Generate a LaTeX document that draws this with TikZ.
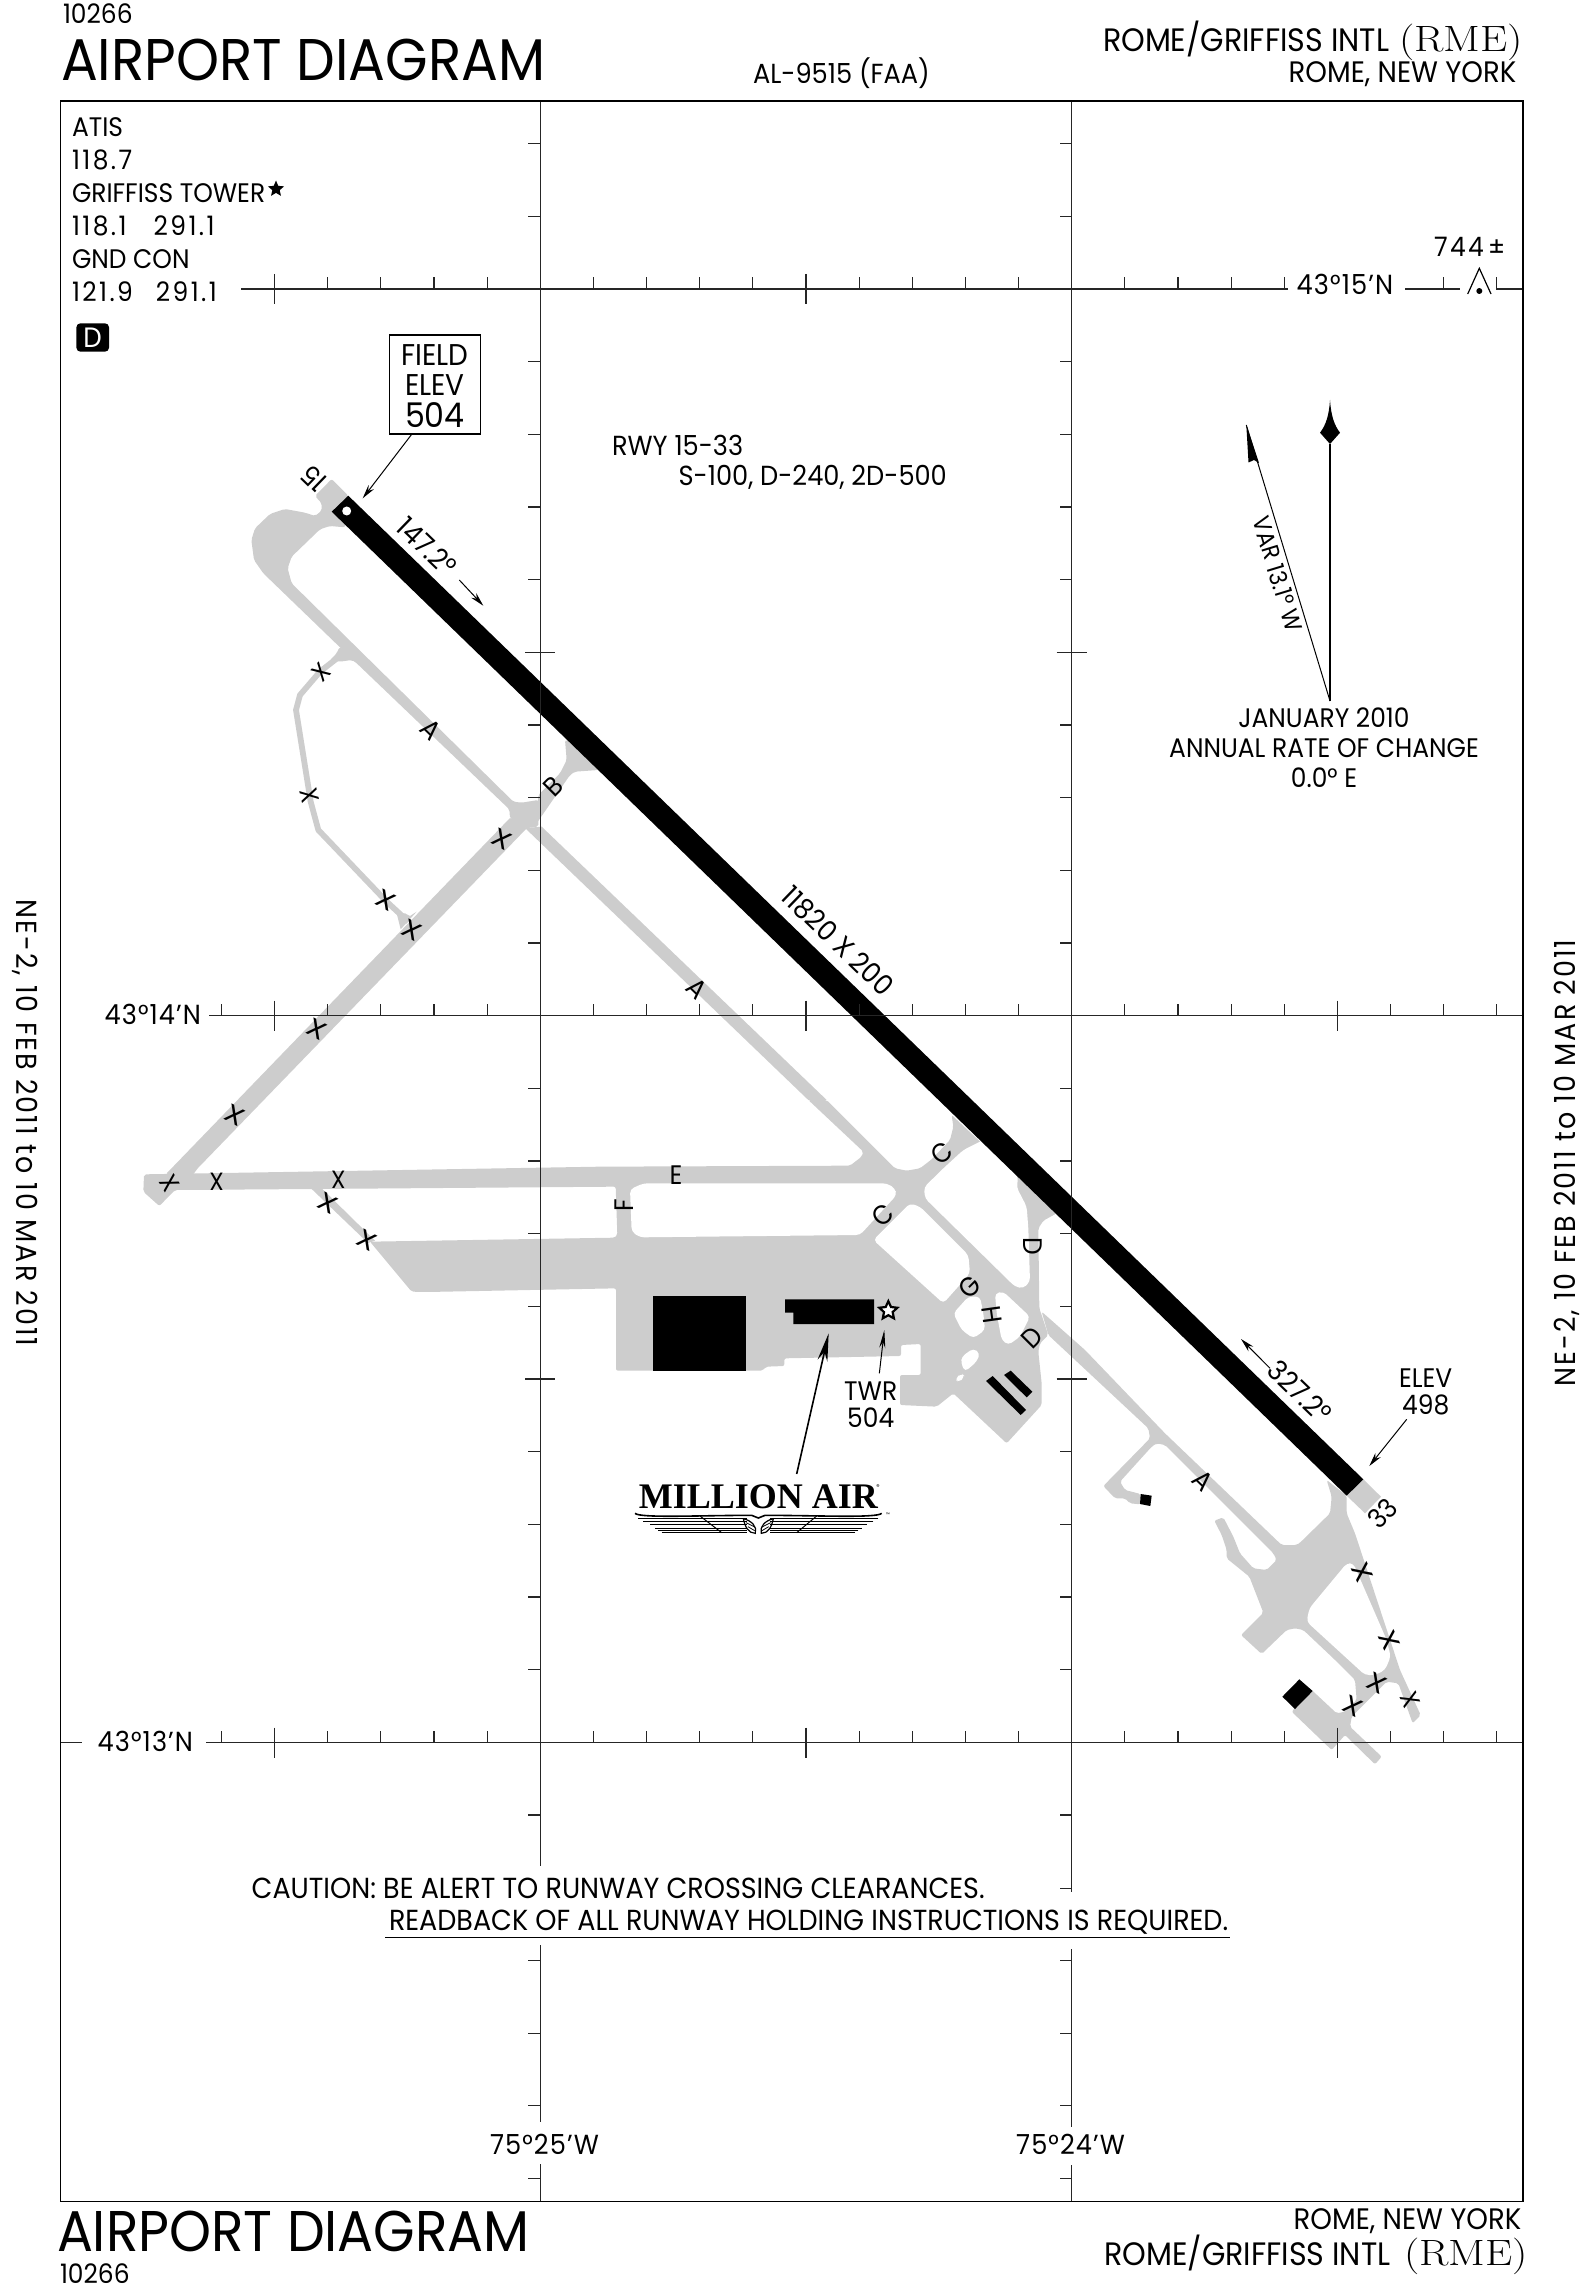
\documentclass[tikz,border=0pt]{standalone}
\usepackage{fontspec}
\setmainfont{Poppins}[FakeStretch=0.93]
\newfontfamily\logofont{Liberation Serif}
\usetikzlibrary{arrows.meta,shapes.geometric,positioning}
\definecolor{twygray}{HTML}{CDCDCD}
\def\xa{540.3}
\def\xb{1071.7}
\def\ya{289}
\def\yb{1015.7}
\def\yc{1742.7}
\newcommand{\rmefont}{\fontfamily{lmr}\selectfont}

\begin{document}
\begin{tikzpicture}[x=0.5pt,y=-0.5pt,
    txt/.style={inner sep=0pt,outer sep=0pt,anchor=base west},
    lab/.style={txt,font=\fontsize{13.4}{16}\selectfont},
    numlab/.style={txt,font=\fontsize{13.4}{16}\selectfont\addfontfeature{LetterSpace=9}},
    longlab/.style={lab,font=\fontsize{13.8}{16}\selectfont},
    latlab/.style={txt,font=\fontsize{13.8}{16}\selectfont\addfontfeature{LetterSpace=4}},
    labc/.style={inner sep=0pt,font=\fontsize{13.4}{16}\selectfont},
    rwylab/.style={labc,rotate=-44,font=\fontsize{14}{16}\selectfont},
    sidelab/.style={inner sep=0pt,font=\fontsize{14.5}{16}\selectfont\addfontfeature{LetterSpace=7}},
    title/.style={txt,font=\fontsize{29.4}{34}\selectfont},
    cityname/.style={txt,font=\fontsize{16.2}{18}\selectfont},
    citystate/.style={txt,font=\fontsize{14.8}{18}\selectfont},
    rmeid/.style={txt,xscale=1.18,font=\fontsize{18.3}{20}\rmefont},
    cautlab/.style={txt,font=\fontsize{14.5}{16}\selectfont},
    xmark/.style={inner sep=0pt,font=\fontsize{12.5}{14}\selectfont},
    widex/.style={xmark,rotate=-28,xscale=1.3},
    gridline/.style={line width=0.6pt,black!85},
    twy/.style={fill=twygray,draw=none},
    hole/.style={fill=white,draw=none,rounded corners=2pt},
    bld/.style={fill=black,draw=none},
    ptr/.style={line width=0.5pt,-{Stealth[length=7pt,width=3.4pt]}}
  ]
  \useasboundingbox (0,0) rectangle (1591,2294);

  % taxiways at the top end
  \begin{scope}[shift={(220,440)},scale=1/3]
    \fill[twy,rounded corners=1pt] (335,117) -- (385,167) -- (375,262) -- (330,258) -- (300,268)
      -- (215,350) -- (203,385) -- (215,430) -- (880,1085) -- (905,1088) -- (955,1080)
      -- (955,1160) -- (915,1165) -- (870,1135) -- (868,1108) -- (360,622) -- (130,400)
      -- (102,360) -- (94,300) -- (105,265) -- (150,222) -- (195,207) -- (255,218)
      -- (285,228) -- (305,212) -- (305,190) -- (285,168) -- cycle;
    \fill[twy,rounded corners=1pt] (358,622) -- (350,640) -- (330,660) -- (360,665) -- (395,660)
      -- (420,675) -- (400,640) -- cycle;
    \draw[twygray,line width=2.9pt,line join=round] (370,640) -- (300,695) -- (240,765) -- (228,810)
      -- (272,1085) -- (295,1170) -- (500,1385) -- (565,1445);
    \fill[twy,rounded corners=1pt] (1035,900) -- (1040,960) -- (1020,1000) -- (955,1065)
      -- (950,1150) -- (1050,1005) -- (1065,995) -- (1135,990) -- (1100,920) -- cycle;
  \end{scope}
  \fill[twy] (525,828) -- (541.7,826.7) -- (826.7,1100) -- (808.3,1100) -- cycle;
  \fill[twy] (510,818) -- (527,828) -- (198,1168) -- (185,1185) -- (166.7,1173.3) -- cycle;
  \fill[twy] (311.7,1189) -- (321.7,1188.3) -- (375,1240.7) -- (368,1243) -- cycle;
  \begin{scope}[shift={(120,900)},scale=1/3]
    \fill[twy] (830,40) -- (842,88) -- (890,35) -- (870,48) -- (855,40) -- cycle;
  \end{scope}

  % aprons and the middle taxiways
  \begin{scope}[shift={(600,1100)},scale=1/3]
    \fill[twy,rounded corners=1pt] (-1368,223) -- (0,200) -- (750,197) -- (785,170) -- (790,155)
      -- (625,0) -- (680,0) -- (850,170) -- (885,205) -- (920,212) -- (960,205) -- (995,178) -- (1050,120)
      -- (1060,80) -- (1055,45) -- (1370,340) -- (1330,362) -- (1315,385) -- (1318,625)
      -- (1345,705) -- (1320,730) -- (1315,755) -- (1325,850) -- (1325,915) -- (1220,1030)
      -- (1060,880) -- (1010,920) -- (900,915) -- (900,825) -- (962,825) -- (962,732)
      -- (903,735) -- (903,768) -- (553,775) -- (553,798) -- (498,800) -- (488,812)
      -- (48,812) -- (48,565) -- (-520,576) -- (-565,575) -- (-690,425) -- (45,413)
      -- (52,405) -- (47,260) -- (-865,267) -- (-1275,270) -- (-1322,318) -- (-1370,275) -- cycle;
    \fill[hole] (90,268) -- (130,250) -- (860,250) -- (885,265) -- (890,285) -- (780,405)
      -- (120,412) -- (95,395) -- cycle;
    \fill[hole] (820,420) -- (930,310) -- (960,320) -- (1105,465) -- (1110,520) -- (1030,610) -- cycle;
    \fill[hole] (972,262) -- (1030,205) -- (1090,150) -- (1150,120) -- (1255,230) -- (1250,262)
      -- (1280,320) -- (1285,385) -- (1290,545) -- (1270,565) -- (1245,560) -- (975,295) -- cycle;
    \fill[hole] (1185,580) -- (1210,575) -- (1290,650) -- (1260,710) -- (1225,735) -- (1205,720)
      -- (1190,640) -- cycle;
    \fill[hole] (1060,640) -- (1105,590) -- (1140,590) -- (1150,640) -- (1155,690) -- (1120,715)
      -- (1085,690) -- cycle;
    \fill[hole] (1085,770) -- (1120,745) -- (1140,760) -- (1130,785) -- (1095,815) -- (1083,790) -- cycle;
    \fill[hole] (1065,835) -- (1085,820) -- (1095,830) -- (1075,848) -- cycle;
    % buildings
    \fill[bld] (159,589) rectangle (438,814);
    \fill[bld] (555,598) -- (822,598) -- (822,672) -- (580,672) -- (580,638) -- (555,638) -- cycle;
    \fill[bld] (1158,843) -- (1178,828) -- (1278,930) -- (1262,945) -- cycle;
    \fill[bld] (1212,825) -- (1232,812) -- (1297,875) -- (1280,892) -- cycle;
    \node[star,star points=5,star point ratio=2.1,minimum size=9.5pt,inner sep=0pt,
      draw=black,fill=white,line width=1.1pt] (twrstar) at (865,632) {};
    \coordinate (twrtip) at (853,690);
    \coordinate (twrtail) at (838,820);
    \coordinate (faotip) at (686,700);
    \coordinate (faotail) at (590,1122);
  \end{scope}

  % lower end of the field
  \begin{scope}[shift={(1050,1350)},scale=1/3]
    \fill[twy,rounded corners=1pt] (-25,-115) -- (105,0) -- (345,250) -- (695,585) -- (740,585)
      -- (750,578) -- (840,490) -- (845,440) -- (830,390) -- (890,437) -- (890,490) -- (915,550)
      -- (1050,960) -- (1112,1095) -- (1088,1120) -- (1045,1000) -- (1010,995) -- (985,1020)
      -- (905,1100) -- (900,1130) -- (995,1220) -- (975,1243) -- (885,1155) -- (845,1200)
      -- (725,1085) -- (785,1020) -- (860,1090) -- (885,1085) -- (920,1050) -- (915,990)
      -- (850,925) -- (760,840) -- (735,835) -- (710,840) -- (635,912) -- (573,855) -- (640,788)
      -- (598,680) -- (530,625) -- (530,600) -- (515,555) -- (493,512) -- (520,502) -- (550,560)
      -- (570,610) -- (610,655) -- (650,660) -- (680,630) -- (670,610) -- (345,285) -- (320,280)
      -- (305,290) -- (210,395) -- (225,420) -- (272,432) -- (272,463) -- (240,460) -- (225,445)
      -- (195,445) -- (160,408) -- (300,265) -- (295,235) -- (-5,-45) -- cycle;
    \fill[hole] (778,775) -- (890,640) -- (910,640) -- (1010,870) -- (1022,920) -- (1005,960)
      -- (975,975) -- (945,975) -- (770,815) -- cycle;
    \fill[bld] (748,988) -- (788,1023) -- (735,1077) -- (697,1040) -- cycle;
    \fill[bld] (272,432) -- (305,437) -- (301,468) -- (270,462) -- cycle;
  \end{scope}

  % stopway and runway
  \fill[twy] (1363.3,1479.3) -- (1381,1496.7) -- (1365,1513.3) -- (1346.7,1495.7) -- cycle;
  \fill[bld] (348.3,495.7) -- (1363.3,1479.3) -- (1346.7,1495.7) -- (331.7,511.7) -- cycle;
  \fill[white] (346.7,511) circle [radius=4.5];

  % lat and long lines
  \draw[gridline] (\xa,101) -- (\xa,1866) (\xa,1945) -- (\xa,2122) (\xa,2164) -- (\xa,2201);
  \draw[gridline] (\xb,101) -- (\xb,1892) (\xb,1949) -- (\xb,2127) (\xb,2165) -- (\xb,2201);
  \foreach \x in {\xa,\xb} {
    \foreach \n in {-2,-1,1,2,3,4,6,7,8,9,11,12,13,14,16,17,18,19,21,23,24,25,26}
      \draw[gridline] (\x,289+72.67*\n) -- ++(-12,0);
    \foreach \n in {5,15}
      \draw[gridline] (\x-15,289+72.67*\n) -- (\x+15,289+72.67*\n);
  }
  \draw[gridline] (\xb,1888.4) -- ++(-12,0);
  \draw[gridline] (241,\ya) -- (1288,\ya) (1405,\ya) -- (1460,\ya) (1496,\ya) -- (1523,\ya);
  \draw[gridline] (209,\yb) -- (1523,\yb);
  \draw[gridline] (60.7,\yc) -- (81.6,\yc) (206,\yc) -- (1523,\yc);
  \foreach \m in {-4,-3,-2,-1,1,2,3,4,6,7,8,9,11,12,13,14,16,17,18}
    \draw[gridline] (540.3+53.14*\m,\ya) -- ++(0,-12);
  \foreach \m in {-6,-4,-3,-2,-1,1,2,3,4,6,7,8,9,11,12,13,14,16,17,18} {
    \draw[gridline] (540.3+53.14*\m,\yb) -- ++(0,-12);
    \draw[gridline] (540.3+53.14*\m,\yc) -- ++(0,-12);
  }
  \foreach \m in {-5,5,15} {
    \draw[gridline] (540.3+53.14*\m,\yb-15) -- (540.3+53.14*\m,\yb+15);
    \draw[gridline] (540.3+53.14*\m,\yc-15) -- (540.3+53.14*\m,\yc+15);
  }
  \foreach \m in {-5,5}
    \draw[gridline] (540.3+53.14*\m,\ya-15) -- (540.3+53.14*\m,\ya+15);
  \draw[line width=0.75pt] (60.7,101) rectangle (1523,2201.3);

  % closed taxiway marks
  \node[xmark,rotate=46] (xma) at (321.3,672.7) {X};
  \node[xmark,rotate=-77] (xmb) at (309.3,796) {X};
  \foreach \i/\px/\py in {c/385.7/900,d/411.7/930,e/502/839.3,f/317.3/1029.3,g/234.7/1115.7,h/328.3/1203.3,i/366.7/1240}
    \node[widex] (xm\i) at (\px,\py) {X};
  \node[xmark] (xmm) at (216.7,1181.7) {X};
  \node[xmark] (xmn) at (338.3,1180) {X};
  \node[xmark,rotate=-59] (xmo) at (169.3,1182.7) {X};
  \node[xmark,rotate=-65,xscale=1.3] (xmq) at (1362.3,1572.7) {X};
  \node[xmark,rotate=-65,xscale=1.3] (xmr) at (1389,1640) {X};
  \node[widex] (xms) at (1376.7,1683.3) {X};
  \node[widex] (xmt) at (1352.7,1706) {X};
  \node[xmark,rotate=-67] (xmu) at (1410,1700) {X};

  % runway and taxiway labels
  \node[labc,rotate=136] (end15) at (314.3,478.3) {15};
  \node[labc,rotate=46] (end33) at (1382.7,1513.3) {33};
  \node[rwylab] (hdg147) at (426.7,546.7) {147.2°};
  \node[rwylab] (hdg327) at (1300,1391.7) {327.2°};
  \node[rwylab] (rwydim) at (838,941) {11820 X 200};
  \coordinate (hdgatail) at (459.3,580);
  \coordinate (hdgatip) at (483.3,605.7);
  \coordinate (hdgbtail) at (1270,1368.3);
  \coordinate (hdgbtip) at (1241,1339);
  \draw[ptr] (hdgatail) -- (hdgatip);
  \draw[ptr] (hdgbtail) -- (hdgbtip);
  \node[labc,rotate=-44] (twya1) at (431,730) {A};
  \node[labc,rotate=-44] (twya2) at (697,989) {A};
  \node[labc,rotate=-44] (twya3) at (1203.3,1480.7) {A};
  \node[labc,rotate=45] (twyb) at (553.3,786.7) {B};
  \node[labc,rotate=40] (twyc1) at (941.7,1153.3) {C};
  \node[labc,rotate=40] (twyc2) at (883.3,1215) {C};
  \node[labc,rotate=-90] (twyd1) at (1033.3,1246.7) {D};
  \node[labc,rotate=45] (twyd2) at (1031.7,1337.7) {D};
  \node[labc] (twye) at (676,1174.7) {E};
  \node[labc,rotate=90] (twyf) at (624,1205.7) {F};
  \node[labc,rotate=45] (twyg) at (970,1287.3) {G};
  \node[labc,rotate=-82] (twyh) at (991.7,1315) {H};

  % elevation boxes and pointers
  \node[draw,line width=0.6pt,inner sep=0pt,minimum width=45.5pt,minimum height=49.5pt] (fieldbox) at (434.8,384.5) {};
  \node[labc,font=\fontsize{15}{16}\selectfont] (fieldt) at (434.8,355) {FIELD};
  \node[labc,font=\fontsize{15}{16}\selectfont] (fielde) at (434.8,385) {ELEV};
  \node[labc,font=\fontsize{17}{18}\selectfont] (fieldn) at (434.8,415) {504};
  \coordinate (fieldtail) at (411.7,434.3);
  \coordinate (fieldtip) at (362.7,498.3);
  \draw[ptr] (fieldtail) -- (fieldtip);
  \node[labc] (elevt) at (1425.7,1378) {ELEV};
  \node[labc] (elevn) at (1425.7,1405) {498};
  \coordinate (elevtail) at (1406.7,1419.3);
  \coordinate (elevtip) at (1369.3,1466);
  \draw[ptr] (elevtail) -- (elevtip);
  \node[labc] (twrt) at (870.7,1390.7) {TWR};
  \node[labc] (twrn) at (870.7,1418) {504};
  \draw[ptr,-{Stealth[length=9pt,width=3pt]}] (twrtail) -- (twrtip);
  \draw[line width=0.8pt,-{Stealth[length=14pt,width=5pt]}] (faotail) -- (faotip);

  % million air logo
  \node[inner sep=0pt,font=\fontsize{18}{18}\logofont\bfseries] (faoname) at (758.3,1496.5) {MILLION AIR};
  \node[inner sep=0pt,font=\fontsize{3.5}{4}\selectfont] (faoreg) at (878,1487) {®};
  \node[inner sep=0pt,font=\fontsize{2.5}{3}\selectfont] (faotm) at (888,1514.5) {™};
  \begin{scope}[shift={(600,1100)},scale=1/3,line width=0.4pt]
    \draw[line width=0.8pt] (105,1240) .. controls (120,1255) and (300,1246) .. (455,1246) -- (475,1254) -- (495,1246)
      .. controls (650,1246) and (830,1255) .. (845,1240);
    \foreach \y/\w in {1254/335,1264/320,1274/300,1284/285,1292/275,1298/265} {
      \draw (475-\w-25,\y) -- (440,\y);
      \draw (475+\w+25,\y) -- (510,\y);
    }
    \draw[line width=0.5pt] (300,1248) -- (365,1298) (650,1248) -- (590,1298);
    \draw[line width=0.6pt] (430,1256) .. controls (455,1262) and (472,1280) .. (466,1300) .. controls (445,1300) and (435,1280) .. (430,1256);
    \draw[line width=0.6pt] (520,1256) .. controls (495,1262) and (478,1280) .. (484,1300) .. controls (505,1300) and (515,1280) .. (520,1256);
    \draw[line width=0.4pt] (438,1268) -- (466,1282) (444,1280) -- (464,1292) (512,1268) -- (484,1282) (506,1280) -- (486,1292);
  \end{scope}

  % compass
  \coordinate (varorigin) at (1330,701);
  \coordinate (truetop) at (1330,444);
  \coordinate (magtop) at (1246.3,425);
  \draw[line width=0.7pt] (varorigin) -- (truetop);
  \draw[line width=0.5pt] (varorigin) -- (magtop);
  \fill (1330,400) .. controls (1331,415) and (1334,425) .. (1340,432.7) -- (1330,444) -- (1320,432.7)
    .. controls (1326,425) and (1329,415) .. (1330,400) -- cycle;
  \fill (1246.3,425) -- (1248.5,462.5) -- (1254,460) -- (1259,463) -- cycle;
  \node[labc,font=\fontsize{12}{12}\selectfont,rotate=-73] (varlab) at (1278,574) {VAR 13.1° W};
  \node[labc] (ratea) at (1324,718) {JANUARY 2010};
  \node[labc] (rateb) at (1324,748) {ANNUAL RATE OF CHANGE};
  \node[labc] (ratec) at (1324,778) {0.0° E};

  % obstacle
  \coordinate (obsapex) at (1479.3,268.3);
  \draw[line width=0.6pt] (1467.7,294) -- (obsapex) -- (1491,294);
  \fill (1479.3,291) circle [radius=3];
  \node[numlab] (obshgt) at (1434,256.7) {744};
  \node[lab] (obspm) at (1488,256.7) {±};

  % header
  \node[lab] (vola) at (63,23.3) {10266};
  \node[title] (ttla) at (61,80.7) {AIRPORT DIAGRAM};
  \node[longlab] (alnum) at (753,84) {AL-9515 (FAA)};
  \node[cityname] (apta) at (1103,51.7) {ROME/GRIFFISS INTL};
  \node[rmeid] (ida) at (1399,51.7) {(RME)};
  \node[citystate] (cta) at (1288.7,82.3) {ROME, NEW YORK};

  % frequencies
  \foreach \i/\py/\t in {1/136.7/ATIS,3/202.3/GRIFFISS TOWER,5/269/GND CON}
    \node[lab] (frq\i) at (72,\py) {\t};
  \foreach \i/\py/\t in {2/170/118.7,4/235.7/118.1\ \ \hspace{4.5pt}291.1,6/301.7/121.9\ \ \hspace{2.5pt}291.1}
    \node[numlab] (frq\i) at (72,\py) {\t};
  \node[star,star points=5,star point ratio=2.2,minimum size=8.5pt,inner sep=0pt,fill=black] (frqstar) at (276,189) {};
  \node[fill=black,rounded corners=2pt,minimum width=16.3pt,minimum height=14.2pt,inner sep=0pt,text=white,font=\fontsize{14}{14}\selectfont] (dbox) at (92.7,337.5) {D};

  % runway data
  \node[longlab] (rwya) at (612,455.6) {RWY 15-33};
  \node[longlab] (rwyb) at (678.6,486) {S-100, D-240, 2D-500};

  % coordinates in the frame
  \node[latlab] (lata) at (1296.7,295) {43°15’N};
  \node[latlab,anchor=base east] (latb) at (201,1024) {43°14’N};
  \node[latlab,anchor=base east] (latc) at (193,1751) {43°13’N};
  \node[latlab] (lona) at (490,2154) {75°25’W};
  \node[latlab,anchor=base east] (lonb) at (1125,2154) {75°24’W};

  % caution
  \node[cautlab] (cauta) at (251.7,1898.3) {CAUTION: BE ALERT TO RUNWAY CROSSING CLEARANCES.};
  \node[cautlab] (cautb) at (389,1930) {READBACK OF ALL RUNWAY HOLDING INSTRUCTIONS IS REQUIRED.};
  \coordinate (ula) at (385,1937.7);
  \coordinate (ulb) at (1230,1937.7);
  \draw[line width=0.7pt] (ula) -- (ulb);

  % margins
  \node[sidelab,rotate=-90] (sidea) at (25,1123) {NE-2, 10 FEB 2011 to 10 MAR 2011};
  \node[sidelab,rotate=90] (sideb) at (1567,1163) {NE-2, 10 FEB 2011 to 10 MAR 2011};

  % footer
  \node[title,font=\fontsize{28.7}{34}\selectfont] (ttlb) at (57,2251) {AIRPORT DIAGRAM};
  \node[lab] (volb) at (60,2283) {10266};
  \node[citystate] (ctb) at (1293.7,2229) {ROME, NEW YORK};
  \node[cityname] (aptb) at (1104.3,2265.7) {ROME/GRIFFISS INTL};
  \node[rmeid] (idb) at (1404,2265.7) {(RME)};
\end{tikzpicture}
\end{document}
